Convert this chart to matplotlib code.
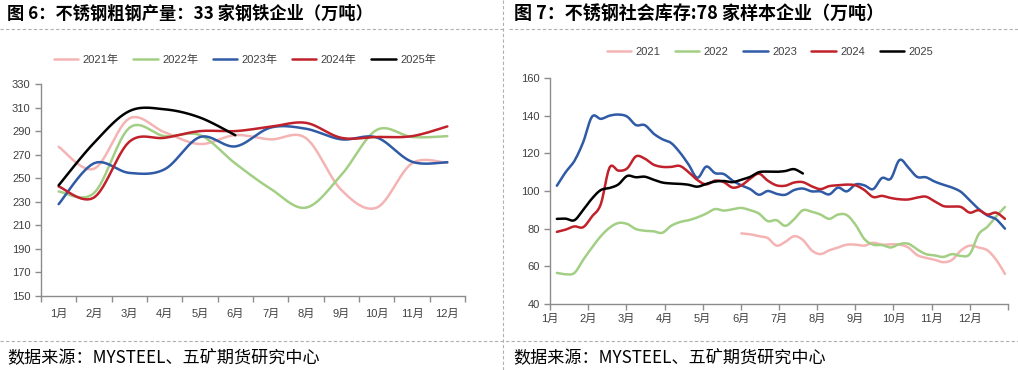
import numpy as np
import matplotlib
matplotlib.use("Agg")
import matplotlib.pyplot as plt
from matplotlib.lines import Line2D

plt.rcParams['font.family'] = ['Liberation Sans', 'Noto Sans CJK SC', 'DejaVu Sans']

# ---- left chart: monthly output (10k t) ----
months = ["1月", "2月", "3月", "4月", "5月", "6月", "7月", "8月", "9月", "10月", "11月", "12月"]
out_2021 = [276.7, 258, 300.8, 289, 279, 286.6, 283, 284, 240, 225, 262.7, 263]
out_2022 = [238.7, 237.4, 292.8, 285.7, 286.6, 262.5, 241, 225, 252.8, 291, 285, 285.7]
out_2023 = [228, 262.7, 254.5, 257.6, 285, 277, 293, 292, 283, 284.6, 264, 263.6]
out_2024 = [243, 233.6, 281, 284.3, 290, 290, 293.7, 297, 284.3, 285, 285.7, 294]
out_2025 = [244, 280, 307, 308.5, 301.5, 286.5]

# ---- right chart: weekly social inventory (10k t) ----
inv_2021 = [77.5, 77, 76, 75, 71, 73, 76, 74, 68.5, 66.5, 68.5, 70, 71.5, 71.5, 71,
            72.5, 71.5, 71.7, 71.5, 70, 66, 64.5, 63.5, 62.2, 63.5, 68.5, 71, 70,
            68.5, 63.5, 56]
inv_2021_start = 21
inv_2022 = [56.5, 55.8, 56.5, 63.5, 70, 76, 80.5, 83, 82.5, 79.8, 78.9, 78.6, 77.8,
            81.5, 83.5, 84.5, 86, 88, 90.4, 89.6, 90.3, 91, 89.8, 88, 84, 84.5, 81.5,
            85, 89.8, 89, 87.5, 85.2, 87.5, 87.2, 82, 74.5, 71.5, 71.3, 70, 71.8, 72,
            69, 66.5, 65.8, 65, 66.5, 65.5, 66.5, 77, 81, 86.5, 91.5]
inv_2023 = [102.8, 110, 116, 126, 139.5, 138.3, 140, 140.6, 139.5, 135, 135, 130.5,
            127.5, 125.5, 120.5, 114, 107, 113, 109.5, 109, 105.5, 103, 101, 98, 100,
            98.5, 98, 100.5, 101.3, 99.8, 99.8, 98.2, 101.8, 99.8, 103.5, 103, 101,
            106.9, 106.5, 116.5, 112.5, 107.5, 107.3, 105, 103.3, 101.8, 99.5, 95,
            90.5, 87, 85, 80]
inv_2024 = [78.3, 79.5, 81.2, 80.8, 86.5, 93, 112.5, 110.8, 112, 118.4, 117.2, 114,
            112.8, 112.8, 113.3, 110, 105.8, 103.5, 105.5, 104.7, 101.8, 103, 106.5,
            109.2, 105.5, 103, 102.8, 104.5, 104.7, 102.5, 101, 102.6, 103, 103.4, 103,
            100.5, 96.8, 97.4, 96.3, 95.6, 95.5, 96.5, 97, 94.5, 92, 91.7, 91.5, 88.5,
            89.8, 87.5, 88.5, 85.2]
inv_2025 = [85.2, 85.3, 84.5, 90, 96, 100.5, 101.6, 103.5, 108, 107.3, 107.6, 106,
            104.5, 104, 103.8, 103.3, 102.3, 103.8, 105, 105.3, 104.7, 106, 107.5, 110,
            110.3, 110.2, 110.6, 111.6, 109.3]

c2021 = "#F4B4B4"
c2022 = "#A3CF85"
c2023 = "#2F5AA6"
c2024 = "#C0212B"
c2025 = "#000000"
txt = "#404040"


def smooth(x, y, n=12):
    # catmull-rom style curve like excel's smoothed lines
    x = np.asarray(x, float)
    y = np.asarray(y, float)
    if len(x) < 3:
        return x, y
    px = np.concatenate([[x[0]], x, [x[-1]]])
    py = np.concatenate([[y[0]], y, [y[-1]]])
    xs, ys = [], []
    t = np.linspace(0, 1, n, endpoint=False)
    for i in range(1, len(px) - 2):
        for p, out in ((px, xs), (py, ys)):
            p0, p1, p2, p3 = p[i - 1], p[i], p[i + 1], p[i + 2]
            out.append(0.5 * (2 * p1 + (-p0 + p2) * t
                              + (2 * p0 - 5 * p1 + 4 * p2 - p3) * t ** 2
                              + (-p0 + 3 * p1 - 3 * p2 + p3) * t ** 3))
    xs.append([x[-1]])
    ys.append([y[-1]])
    return np.concatenate(xs), np.concatenate(ys)


W, H = 1018, 370
fig = plt.figure(figsize=(W / 100, H / 100), dpi=100)


def px_axes(l, t, r, b):
    return fig.add_axes([l / W, 1 - b / H, (r - l) / W, (b - t) / H])


def style_axes(ax):
    for s in ("top", "right"):
        ax.spines[s].set_visible(False)
    for s in ("left", "bottom"):
        ax.spines[s].set_color("#8c8c8c")
        ax.spines[s].set_linewidth(1.0)
    ax.tick_params(colors="#8c8c8c", labelcolor=txt, labelsize=8, length=4, width=1)


# frame decorations
fig.add_artist(Line2D([0, 505 / W], [1 - 29 / H] * 2, color="#b0b0b0", lw=0.8, ls=(0, (3, 2))))
fig.add_artist(Line2D([509 / W, 1], [1 - 29 / H] * 2, color="#b0b0b0", lw=0.8, ls=(0, (3, 2))))
fig.add_artist(Line2D([0, 1], [1 - 341 / H] * 2, color="#b0b0b0", lw=0.8, ls=(0, (3, 2))))
fig.add_artist(Line2D([503 / W] * 2, [0, 1], color="#b0b0b0", lw=0.8, ls=(0, (3, 2))))

title_font = ['Noto Sans CJK SC', 'DejaVu Sans']
fig.text(7 / W, 1 - 14 / H, "图 6：不锈钢粗钢产量：33 家钢铁企业（万吨）", family=title_font,
         fontsize=12.4, fontweight="bold", va="center", ha="left", color="#000")
fig.text(514 / W, 1 - 14 / H, "图 7：不锈钢社会库存:78 家样本企业（万吨）", family=title_font,
         fontsize=13, fontweight="bold", va="center", ha="left", color="#000")
fig.text(7 / W, 1 - 357 / H, "数据来源：MYSTEEL、五矿期货研究中心", family=title_font,
         fontsize=12.3, va="center", ha="left", color="#000")
fig.text(513 / W, 1 - 357 / H, "数据来源：MYSTEEL、五矿期货研究中心", family=title_font,
         fontsize=12.3, va="center", ha="left", color="#000")

# ---- left chart ----
ax1 = px_axes(41, 84, 465, 296)
style_axes(ax1)
series1 = [("2021年", out_2021, c2021), ("2022年", out_2022, c2022), ("2023年", out_2023, c2023),
           ("2024年", out_2024, c2024), ("2025年", out_2025, c2025)]
for name, vals, col in series1:
    xs = np.arange(len(vals)) + 0.5
    sx, sy = smooth(xs, vals)
    ax1.plot(sx, sy, color=col, lw=1.8, label=name, solid_capstyle="round")
ax1.set_xlim(0, 12)
ax1.set_ylim(150, 330)
ax1.set_yticks(np.arange(150, 331, 20))
ax1.set_xticks(np.arange(0, 13))
ax1.set_xticklabels([])
ax1.set_xticks(np.arange(12) + 0.5, minor=True)
ax1.set_xticklabels(months, minor=True)
ax1.tick_params(axis="x", which="minor", length=0, pad=9, labelsize=8, labelcolor=txt)
ax1.legend(loc="center", bbox_to_anchor=(245 / W, 1 - 60 / H), bbox_transform=fig.transFigure,
           ncol=5, frameon=False, fontsize=8, handlelength=2.2, columnspacing=1.3,
           handletextpad=0.4, labelcolor=txt)

# ---- right chart ----
ax2 = px_axes(550, 78, 1008, 304)
style_axes(ax2)
wk0 = 0.18
step = (11.92 - wk0) / 51
series2 = [("2021", inv_2021, c2021, inv_2021_start), ("2022", inv_2022, c2022, 0),
           ("2023", inv_2023, c2023, 0), ("2024", inv_2024, c2024, 0),
           ("2025", inv_2025, c2025, 0)]
for name, vals, col, start in series2:
    xs = wk0 + step * (np.arange(len(vals)) + start)
    sx, sy = smooth(xs, vals, n=6)
    ax2.plot(sx, sy, color=col, lw=1.8, label=name, solid_capstyle="round")
ax2.set_xlim(0, 12)
ax2.set_ylim(40, 160)
ax2.set_yticks(np.arange(40, 161, 20))
ax2.set_xticks(np.arange(0, 13))
ax2.set_xticklabels(months + [""])
ax2.tick_params(axis="x", pad=3)
ax2.legend(loc="center", bbox_to_anchor=(770 / W, 1 - 52 / H), bbox_transform=fig.transFigure,
           ncol=5, frameon=False, fontsize=8, handlelength=2.2, columnspacing=1.3,
           handletextpad=0.4, labelcolor=txt)

fig.savefig("out.png", dpi=100)
